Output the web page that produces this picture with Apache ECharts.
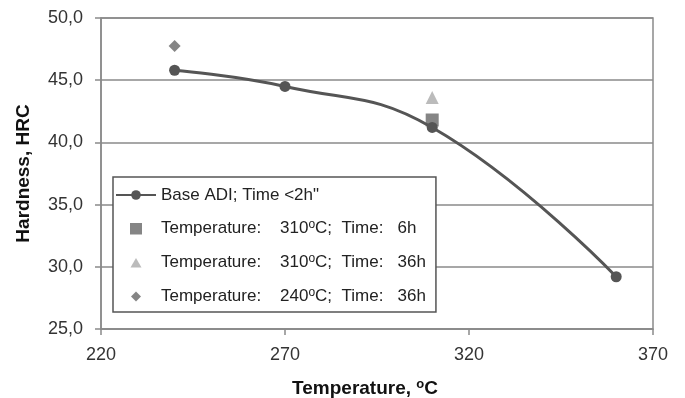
<!DOCTYPE html>
<html>
<head>
<meta charset="utf-8">
<script src="https://cdn.jsdelivr.net/npm/echarts@6/dist/echarts.min.js"></script>
<style>
html,body{margin:0;padding:0;background:#fff;}
#chart{width:685px;height:398px;}
</style>
</head>
<body>
<div id="chart"></div>
<script>
var baseTemps = [240, 270, 310, 360];
var baseHardness = [45.8, 44.5, 41.2, 29.2];
var t310h6 = [[310, 41.8]];
var t310h36 = [[310, 43.6]];
var t240h36 = [[240, 47.75]];
var seriesNames = [
  'Base ADI; Time <2h"',
  'Temperature:    310{sup|o}C;  Time:   6h',
  'Temperature:    310{sup|o}C;  Time:   36h',
  'Temperature:    240{sup|o}C;  Time:   36h'
];
var yTicks = {min: 25, max: 50, interval: 5};
var xTicks = {min: 220, max: 370, interval: 50};

var baseData = baseTemps.map(function (t, i) { return [t, baseHardness[i]]; });
var FONT = '"Liberation Sans", Arial, sans-serif';
var BOX = 'M0,0M40,12';
var legendIcons = [
  null,
  'path://' + BOX + 'M14,0.5L26,0.5L26,12L14,12Z',
  'path://' + BOX + 'M20,1.5L25.5,11L14.5,11Z',
  'path://' + BOX + 'M20,1L25,6L20,11L15,6Z'
];
var legendData = seriesNames.map(function (n, i) {
  return legendIcons[i] ? {name: n, icon: legendIcons[i]} : {name: n};
});
var chart = echarts.init(document.getElementById('chart'));
chart.setOption({
  animation: false,
  backgroundColor: '#fff',
  grid: {left: 101, right: 32, top: 18, bottom: 69, outerBoundsMode: 'none', containLabel: false,
    show: true, borderColor: '#8a8a8a', borderWidth: 1.5, backgroundColor: 'transparent'},
  xAxis: {
    type: 'value', min: xTicks.min, max: xTicks.max, interval: xTicks.interval,
    name: 'Temperature, {sup|o}C', nameLocation: 'middle', nameGap: 49,
    nameTextStyle: {fontFamily: FONT, fontSize: 19, fontWeight: 'bold', color: '#111', padding: [0, 24, 0, 0],
      rich: {sup: {fontSize: 13, fontWeight: 'bold', color: '#111', padding: [0, 0, 9, 0]}}},
    axisLine: {show: true, lineStyle: {color: '#8a8a8a', width: 1.5}},
    axisTick: {show: true, inside: false, length: 6, lineStyle: {color: '#8a8a8a', width: 1.5}},
    axisLabel: {fontFamily: FONT, fontSize: 18, color: '#333', margin: 17},
    splitLine: {show: false}
  },
  yAxis: {
    type: 'value', min: yTicks.min, max: yTicks.max, interval: yTicks.interval,
    name: 'Hardness, HRC', nameLocation: 'middle', nameGap: 68,
    nameTextStyle: {fontFamily: FONT, fontSize: 19, fontWeight: 'bold', color: '#111'},
    axisLine: {show: true, lineStyle: {color: '#8a8a8a', width: 1.5}},
    axisTick: {show: true, inside: false, length: 6, lineStyle: {color: '#8a8a8a', width: 1.5}},
    axisLabel: {fontFamily: FONT, fontSize: 18, color: '#333', margin: 18,
      formatter: function (v) { return v.toFixed(1).replace('.', ','); }},
    splitLine: {show: true, lineStyle: {color: '#8a8a8a', width: 1.5}}
  },
  legend: {
    orient: 'vertical', left: 113, top: 177,
    backgroundColor: '#fff', borderColor: '#555', borderWidth: 1.5,
    padding: [9, 10, 6, 2], itemGap: 15, itemWidth: 40, itemHeight: 12,
    textStyle: {fontFamily: FONT, fontSize: 17, color: '#222', lineHeight: 18,
      rich: {sup: {fontSize: 12, color: '#222', lineHeight: 18, padding: [0, 0, 7, 0]}}},
    data: legendData
  },
  series: [
    {name: seriesNames[0], type: 'line', data: baseData, smooth: 0.45,
      symbol: 'circle', symbolSize: 11,
      lineStyle: {color: '#555', width: 3}, itemStyle: {color: '#555'}, z: 3},
    {name: seriesNames[1], type: 'scatter', data: t310h6, symbol: 'rect', symbolSize: 13,
      itemStyle: {color: '#666'}, z: 2},
    {name: seriesNames[2], type: 'scatter', data: t310h36, symbol: 'triangle', symbolSize: 13,
      itemStyle: {color: '#aaa'}, z: 2},
    {name: seriesNames[3], type: 'scatter', data: t240h36, symbol: 'diamond', symbolSize: 12,
      itemStyle: {color: '#666'}, z: 2}
  ]
});
</script>
</body>
</html>
